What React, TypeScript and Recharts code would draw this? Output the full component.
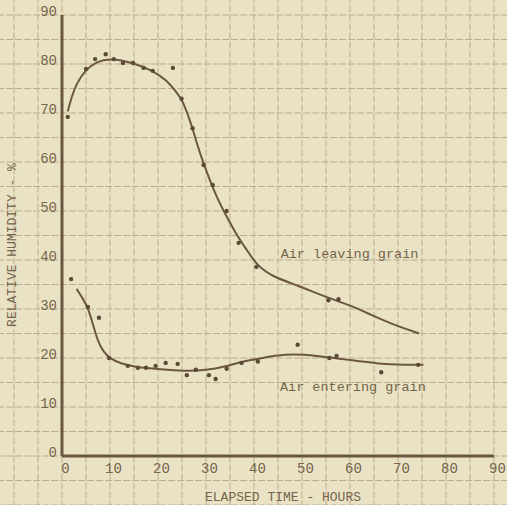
import React from 'react';
import { ComposedChart, Line, Scatter, XAxis, YAxis, ReferenceLine, ReferenceDot } from 'recharts';

// ---- tick labels ----
const xTicks = [0, 10, 20, 30, 40, 50, 60, 70, 80, 90];
const yTicks = [0, 10, 20, 30, 40, 50, 60, 70, 80, 90];
const gridXValues = [-10, -5, 0, 5, 10, 15, 20, 25, 30, 35, 40, 45, 50, 55, 60, 65, 70, 75, 80, 85, 90];
const gridYValues = [-10, -5, 0, 5, 10, 15, 20, 25, 30, 35, 40, 45, 50, 55, 60, 65, 70, 75, 80, 85, 90];

// ---- Air leaving grain: observed points ----
const leavingHours = [1.2, 5.0, 6.9, 9.1, 10.8, 12.7, 14.8, 17.0, 18.9, 23.1, 24.9, 27.2, 29.5, 31.4, 34.3, 36.8, 40.5, 55.5, 57.6];
const leavingRH = [69.2, 79.0, 81.0, 82.0, 81.0, 80.2, 80.2, 79.2, 78.6, 79.2, 72.9, 66.9, 59.4, 55.3, 50.0, 43.5, 38.6, 31.8, 32.0];

// ---- Air leaving grain: fitted curve ----
const leavingCurveHours = [1.2, 2.0, 3.05, 5.0, 7.2, 10.0, 14.8, 19.0, 21.8, 23.8, 24.9, 25.9, 27.2, 28.3, 29.6, 30.8, 32.2, 34.0, 36.5, 38.4, 40.7, 43.9, 48.8, 55.6, 59.9, 64.0, 68.2, 74.4];
const leavingCurveRH = [70.3, 73.3, 76.1, 78.9, 80.5, 81.2, 80.3, 78.6, 76.7, 74.3, 72.8, 70.6, 66.9, 63.1, 59.4, 56.3, 52.9, 49.4, 44.9, 42.2, 38.8, 36.6, 34.9, 32.2, 30.8, 29.0, 27.1, 25.0];

// ---- Air entering grain: observed points ----
const enteringHours = [1.9, 5.4, 7.7, 9.8, 13.7, 15.8, 17.5, 19.5, 21.6, 24.1, 26.0, 27.9, 30.6, 32.0, 34.3, 37.4, 40.8, 49.1, 55.7, 57.2, 66.5, 74.2];
const enteringRH = [36.1, 30.4, 28.2, 20.0, 18.4, 18.0, 18.0, 18.4, 19.0, 18.8, 16.5, 17.6, 16.5, 15.7, 17.8, 19.0, 19.3, 22.7, 20.0, 20.4, 17.1, 18.6];

// ---- Air entering grain: fitted curve ----
const enteringCurveHours = [3.05, 4.3, 5.5, 6.5, 7.5, 8.6, 10.0, 12.1, 15.5, 19.7, 25.6, 30.0, 34.0, 37.0, 40.8, 46.5, 53.0, 60.0, 66.0, 71.5, 75.3];
const enteringCurveRH = [34.1, 32.2, 30.1, 26.7, 23.3, 21.3, 19.9, 18.9, 18.1, 17.8, 17.3, 17.5, 18.2, 19.2, 19.8, 20.9, 20.5, 19.6, 18.8, 18.6, 18.6];

const leavingPts = leavingHours.map((x, i) => ({ x, y: leavingRH[i] }));
const leavingCurve = leavingCurveHours.map((x, i) => ({ x, y: leavingCurveRH[i] }));
const enteringPts = enteringHours.map((x, i) => ({ x, y: enteringRH[i] }));
const enteringCurve = enteringCurveHours.map((x, i) => ({ x, y: enteringCurveRH[i] }));

const BG = '#eae2c4';
const GRID = '#bcab8c';
const INK = '#6b5740';
const TEXT = '#75644c';
const FONT = '"Liberation Mono", "DejaVu Sans Mono", monospace';

const XTick = (props: any) => {
  const { x, y, payload } = props;
  return (
    <text x={x + 3.5} y={y + 17} textAnchor="middle" fill={TEXT} fontSize={14} fontFamily={FONT}>
      {payload.value}
    </text>
  );
};

const YTick = (props: any) => {
  const { x, y, payload } = props;
  return (
    <text x={x - 5} y={y + 1} textAnchor="end" fill={TEXT} fontSize={14} fontFamily={FONT}>
      {payload.value}
    </text>
  );
};

const Dot = (props: any) => <circle cx={props.cx} cy={props.cy} r={2.2} fill="#5c4a36" />;

export default function App() {
  return (
    <div style={{ position: 'absolute', left: 0, top: 0, width: 507, height: 505, background: BG, overflow: 'hidden' }}>
      <ComposedChart width={507} height={505} margin={{ top: 15, right: 13, bottom: 0, left: 0 }}>
        <XAxis
          type="number"
          dataKey="x"
          domain={[0, 90]}
          ticks={xTicks}
          allowDataOverflow
          height={49}
          tickLine={false}
          tickSize={0}
          tickMargin={0}
          axisLine={{ stroke: INK, strokeWidth: 3 }}
          tick={<XTick />}
          label={{
            value: 'ELAPSED TIME - HOURS',
            content: ({ viewBox }: any) => (
              <text x={283} y={viewBox.y + 45} textAnchor="middle" fill={TEXT} fontSize={13} fontFamily={FONT}>
                ELAPSED TIME - HOURS
              </text>
            ),
          }}
        />
        <YAxis
          type="number"
          dataKey="y"
          domain={[0, 90]}
          ticks={yTicks}
          allowDataOverflow
          width={62}
          tickLine={false}
          tickSize={0}
          tickMargin={0}
          axisLine={{ stroke: INK, strokeWidth: 3 }}
          tick={<YTick />}
          label={{
            value: 'RELATIVE HUMIDITY - %',
            content: () => {
              const cx = 16;
              const cy = 245;
              return (
                <text x={cx} y={cy} transform={`rotate(-90, ${cx}, ${cy})`} textAnchor="middle" fill={TEXT} fontSize={13} fontFamily={FONT}>
                  RELATIVE HUMIDITY - %
                </text>
              );
            },
          }}
        />
        {gridXValues.map((v) => (
          <ReferenceLine
            key={'gx' + v}
            ifOverflow="visible"
            segment={[{ x: v, y: -10.5 }, { x: v, y: 93.5 }]}
            stroke={GRID}
            strokeWidth={1}
            strokeDasharray="7 2"
          />
        ))}
        {gridYValues.map((v) => (
          <ReferenceLine
            key={'gy' + v}
            ifOverflow="visible"
            segment={[{ x: -13.5, y: v }, { x: 93, y: v }]}
            stroke={GRID}
            strokeWidth={1}
            strokeDasharray="7 2"
          />
        ))}
        <Line data={leavingCurve} dataKey="y" type="basis" stroke={INK} strokeWidth={2} dot={false} activeDot={false} isAnimationActive={false} />
        <Line data={enteringCurve} dataKey="y" type="basis" stroke={INK} strokeWidth={2} dot={false} activeDot={false} isAnimationActive={false} />
        <Scatter data={leavingPts} dataKey="y" shape={<Dot />} isAnimationActive={false} />
        <Scatter data={enteringPts} dataKey="y" shape={<Dot />} isAnimationActive={false} />
        <ReferenceDot
          x={59.9}
          y={41.4}
          r={0}
          ifOverflow="visible"
          label={{ value: 'Air leaving grain', position: 'center', fill: TEXT, fontSize: 13.5, fontFamily: FONT }}
        />
        <ReferenceDot
          x={60.6}
          y={14.3}
          r={0}
          ifOverflow="visible"
          label={{ value: 'Air entering grain', position: 'center', fill: TEXT, fontSize: 13.5, fontFamily: FONT }}
        />
      </ComposedChart>
    </div>
  );
}
